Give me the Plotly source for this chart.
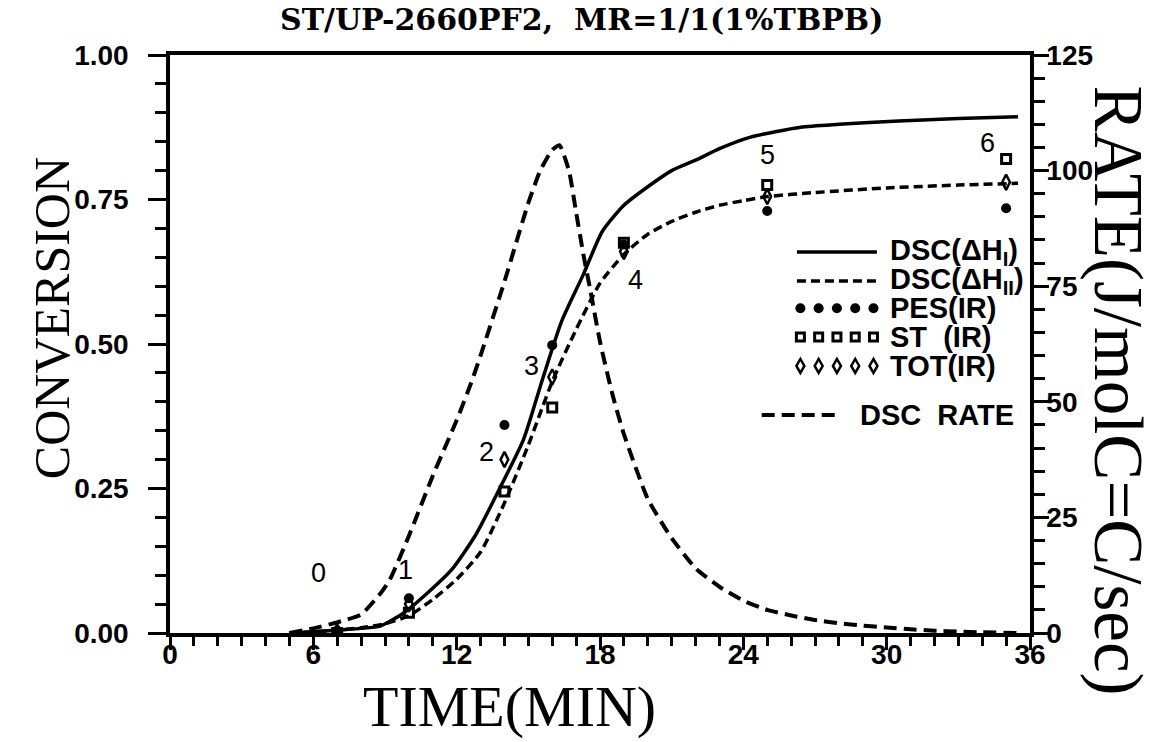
import numpy as np
import plotly.graph_objects as go

# ---------------- data ----------------
time_h1 = [5, 6, 7, 8, 8.8, 9.8, 10.8, 11.8, 12.8, 13.8, 14.8, 15.6, 16.4, 17.3, 18.1,
           19, 20, 21, 22, 23, 24.3, 26.4, 28, 30.5, 33, 35.5]
conv_h1 = [0, 0.002, 0.005, 0.008, 0.012, 0.035, 0.07, 0.11, 0.17, 0.25, 0.335, 0.44, 0.54,
           0.62, 0.695, 0.74, 0.772, 0.80, 0.818, 0.838, 0.858, 0.875, 0.88, 0.886, 0.89, 0.893]

time_h2 = [5, 6, 7, 8, 9, 10, 11, 12, 13, 14, 15, 16, 17, 18, 19, 20, 21, 22, 23, 24, 25,
           27, 30, 33, 35.5]
conv_h2 = [0, 0.002, 0.005, 0.009, 0.016, 0.03, 0.058, 0.093, 0.14, 0.225, 0.325, 0.435,
           0.525, 0.605, 0.655, 0.69, 0.712, 0.728, 0.74, 0.748, 0.755, 0.762, 0.77, 0.775, 0.778]

time_rate = [5, 6, 7, 8, 8.8, 9.2, 10, 11, 12, 12.6, 13, 14, 15, 15.5, 16, 16.3, 16.7, 17,
             17.3, 17.6, 18, 18.5, 19, 20, 21, 22, 23, 24, 25, 26, 27, 28, 29, 30, 31, 32,
             33, 34, 35.5]
rate = [0, 1, 2.3, 4, 8.5, 11.5, 21, 34, 46, 54, 60, 76, 93, 100, 104.5, 105.5, 100, 91,
        82, 74, 63, 52, 43, 29, 20.5, 14, 10, 7, 5, 3.8, 2.8, 2.1, 1.6, 1.2, 0.8, 0.5,
        0.3, 0.15, 0]

sample_time = [7, 10, 14, 16, 19, 25, 35]
sample_label = ["0", "1", "2", "3", "4", "5", "6"]
pes_ir = [0.004, 0.06, 0.36, 0.498, 0.672, 0.73, 0.735]
st_ir = [0.0, 0.035, 0.245, 0.39, 0.675, 0.775, 0.82]
tot_ir = [0.002, 0.05, 0.30, 0.443, 0.66, 0.755, 0.78]

x_ticks = [0, 6, 12, 18, 24, 30, 36]
y_ticks = [0, 0.25, 0.5, 0.75, 1.0]
y2_ticks = [0, 25, 50, 75, 100, 125]

# ---------------- styles ----------------
BLACK = "black"
TICK_FONT = dict(family="Liberation Sans", size=28, color=BLACK, weight="bold")
SERIF = "Liberation Serif"
LEG_FONT = dict(family="Liberation Sans", size=29, color=BLACK, weight="bold")
DASH_CONV = "9px,5px"
DASH_RATE = "13px,7px"

fig = go.Figure()

fig.add_trace(go.Scatter(x=time_h1, y=conv_h1, mode="lines",
                         line=dict(color=BLACK, width=3.5, shape="spline", smoothing=0.6),
                         showlegend=False, name="DSC(ΔH I)"))
fig.add_trace(go.Scatter(x=time_h2, y=conv_h2, mode="lines",
                         line=dict(color=BLACK, width=3.5, dash=DASH_CONV, shape="spline",
                                   smoothing=0.6),
                         showlegend=False, name="DSC(ΔH II)"))
fig.add_trace(go.Scatter(x=time_rate, y=rate, mode="lines", yaxis="y2",
                         line=dict(color=BLACK, width=4, dash=DASH_RATE, shape="spline",
                                   smoothing=0.5),
                         showlegend=False, name="DSC RATE"))
PES_M = dict(symbol="circle", size=10, color=BLACK)
ST_M = dict(symbol="square-open", size=9, color=BLACK, line=dict(width=3, color=BLACK))
TOT_M = dict(symbol="diamond-tall-open", size=11, color=BLACK, line=dict(width=2.5, color=BLACK))
fig.add_trace(go.Scatter(x=sample_time, y=pes_ir, mode="markers", marker=PES_M,
                         showlegend=False, name="PES(IR)"))
fig.add_trace(go.Scatter(x=sample_time, y=st_ir, mode="markers", marker=ST_M,
                         showlegend=False, name="ST (IR)"))
fig.add_trace(go.Scatter(x=sample_time, y=tot_ir, mode="markers", marker=TOT_M,
                         showlegend=False, name="TOT(IR)"))

# sample number labels, anchored on the top marker of each sample
label_shift = [(-19, 58), (-3, 28), (-18, -27), (-21, -21), (12, -37), (0, 30), (-19, 16)]
top_vals = [max(a, b, c) for a, b, c in zip(pes_ir, st_ir, tot_ir)]
annotations = []
for t, v, lab, (dx, dy) in zip(sample_time, top_vals, sample_label, label_shift):
    annotations.append(dict(x=t, y=v, xref="x", yref="y", text=lab, showarrow=False,
                            xshift=dx, yshift=dy, xanchor="center", yanchor="middle",
                            font=dict(family="Liberation Sans", size=27, color=BLACK)))

# ---------------- custom legend drawn with shapes (paper coordinates) ----------------
LINE_X = [0.729, 0.822]
MARK_X = list(np.linspace(0.733, 0.818, 5))
TEXT_X = 0.835
ROW_Y = [0.659, 0.609, 0.562, 0.512, 0.462]
RATE_ROW = dict(x=[0.688, 0.781], y=0.377, text_x=0.80)

shapes = []


def pix_shape(kind, cx, cy, **kw):
    base = dict(type=kind, xref="paper", yref="paper", xsizemode="pixel", ysizemode="pixel",
                xanchor=cx, yanchor=cy, layer="above")
    base.update(kw)
    return base


leg_rows = [
    ("line", dict(color=BLACK, width=3.5), "DSC(ΔH<sub>I</sub>)"),
    ("line", dict(color=BLACK, width=3.5, dash=DASH_CONV), "DSC(ΔH<sub>II</sub>)"),
    ("circle", None, "PES(IR)"),
    ("square", None, "ST\u00a0\u00a0(IR)"),
    ("diamond", None, "TOT(IR)"),
]
for (kind, sty, txt), ry in zip(leg_rows, ROW_Y):
    if kind == "line":
        shapes.append(dict(type="line", xref="paper", yref="paper", x0=LINE_X[0], x1=LINE_X[1],
                           y0=ry, y1=ry, line=sty, layer="above"))
    else:
        for mx in MARK_X:
            if kind == "circle":
                shapes.append(pix_shape("circle", mx, ry, x0=-5, x1=5, y0=-5, y1=5,
                                        fillcolor=BLACK, line=dict(width=0)))
            elif kind == "square":
                shapes.append(pix_shape("rect", mx, ry, x0=-4, x1=4, y0=-4, y1=4,
                                        fillcolor="white", line=dict(color=BLACK, width=3)))
            else:
                shapes.append(pix_shape("path", mx, ry, path="M 0,-7 L 4,0 L 0,7 L -4,0 Z",
                                        fillcolor="white", line=dict(color=BLACK, width=2.5)))
    annotations.append(dict(x=TEXT_X, y=ry, xref="paper", yref="paper", text=txt,
                            showarrow=False, xanchor="left", yanchor="middle", font=LEG_FONT))
shapes.append(dict(type="line", xref="paper", yref="paper", x0=RATE_ROW["x"][0],
                   x1=RATE_ROW["x"][1], y0=RATE_ROW["y"], y1=RATE_ROW["y"], layer="above",
                   line=dict(color=BLACK, width=4, dash=DASH_RATE)))
annotations.append(dict(x=RATE_ROW["text_x"], y=RATE_ROW["y"], xref="paper", yref="paper",
                        text="DSC\u00a0\u00a0RATE", showarrow=False, xanchor="left",
                        yanchor="middle", font=LEG_FONT))

# ---------------- titles ----------------
annotations += [
    dict(x=0.479, y=1.062, xref="paper", yref="paper", showarrow=False,
         xanchor="center", yanchor="middle",
         text="ST/UP-2660PF2,  MR=1/1(1%TBPB)",
         font=dict(family="DejaVu Serif", size=30, color=BLACK, weight="bold")),
    dict(x=-0.137, y=0.545, xref="paper", yref="paper", showarrow=False, textangle=-90,
         xanchor="center", yanchor="middle",
         text="CONVERSION", font=dict(family=SERIF, size=50, color=BLACK)),
    dict(x=0.395, y=-0.128, xref="paper", yref="paper", showarrow=False,
         xanchor="center", yanchor="middle",
         text="TIME(MIN)", font=dict(family=SERIF, size=58, color=BLACK)),
    dict(x=1.102, y=0.42, xref="paper", yref="paper", showarrow=False, textangle=90,
         xanchor="center", yanchor="middle",
         text="RATE(J/molC=C/sec)", font=dict(family=SERIF, size=69, color=BLACK)),
]

axis_common = dict(showgrid=False, zeroline=False, showline=True, linecolor=BLACK, linewidth=3.5,
                   ticks="outside", tickwidth=3, tickcolor=BLACK, tickfont=TICK_FONT)

fig.update_layout(
    template="none",
    width=1171, height=742,
    margin=dict(l=170, r=141, t=55, b=109),
    paper_bgcolor="white", plot_bgcolor="white",
    showlegend=False,
    xaxis=dict(range=[0, 36], tickvals=x_ticks, ticklen=13, mirror=True, ticklabelstandoff=-19,
               minor=dict(dtick=1, ticklen=9, tickwidth=3, tickcolor=BLACK, ticks="outside"),
               **axis_common),
    yaxis=dict(range=[0, 1], tickvals=y_ticks, tickformat=".2f", ticklen=18,
               ticklabelstandoff=14,
               minor=dict(dtick=0.05, ticklen=11, tickwidth=3, tickcolor=BLACK, ticks="outside"),
               **axis_common),
    yaxis2=dict(range=[0, 125], tickvals=y2_ticks, overlaying="y", side="right", ticklen=15,
                ticklabelstandoff=-8,
                minor=dict(dtick=5, ticklen=11, tickwidth=3, tickcolor=BLACK, ticks="outside"),
                **axis_common),
    annotations=annotations,
    shapes=shapes,
)

fig.write_html("out.html")
